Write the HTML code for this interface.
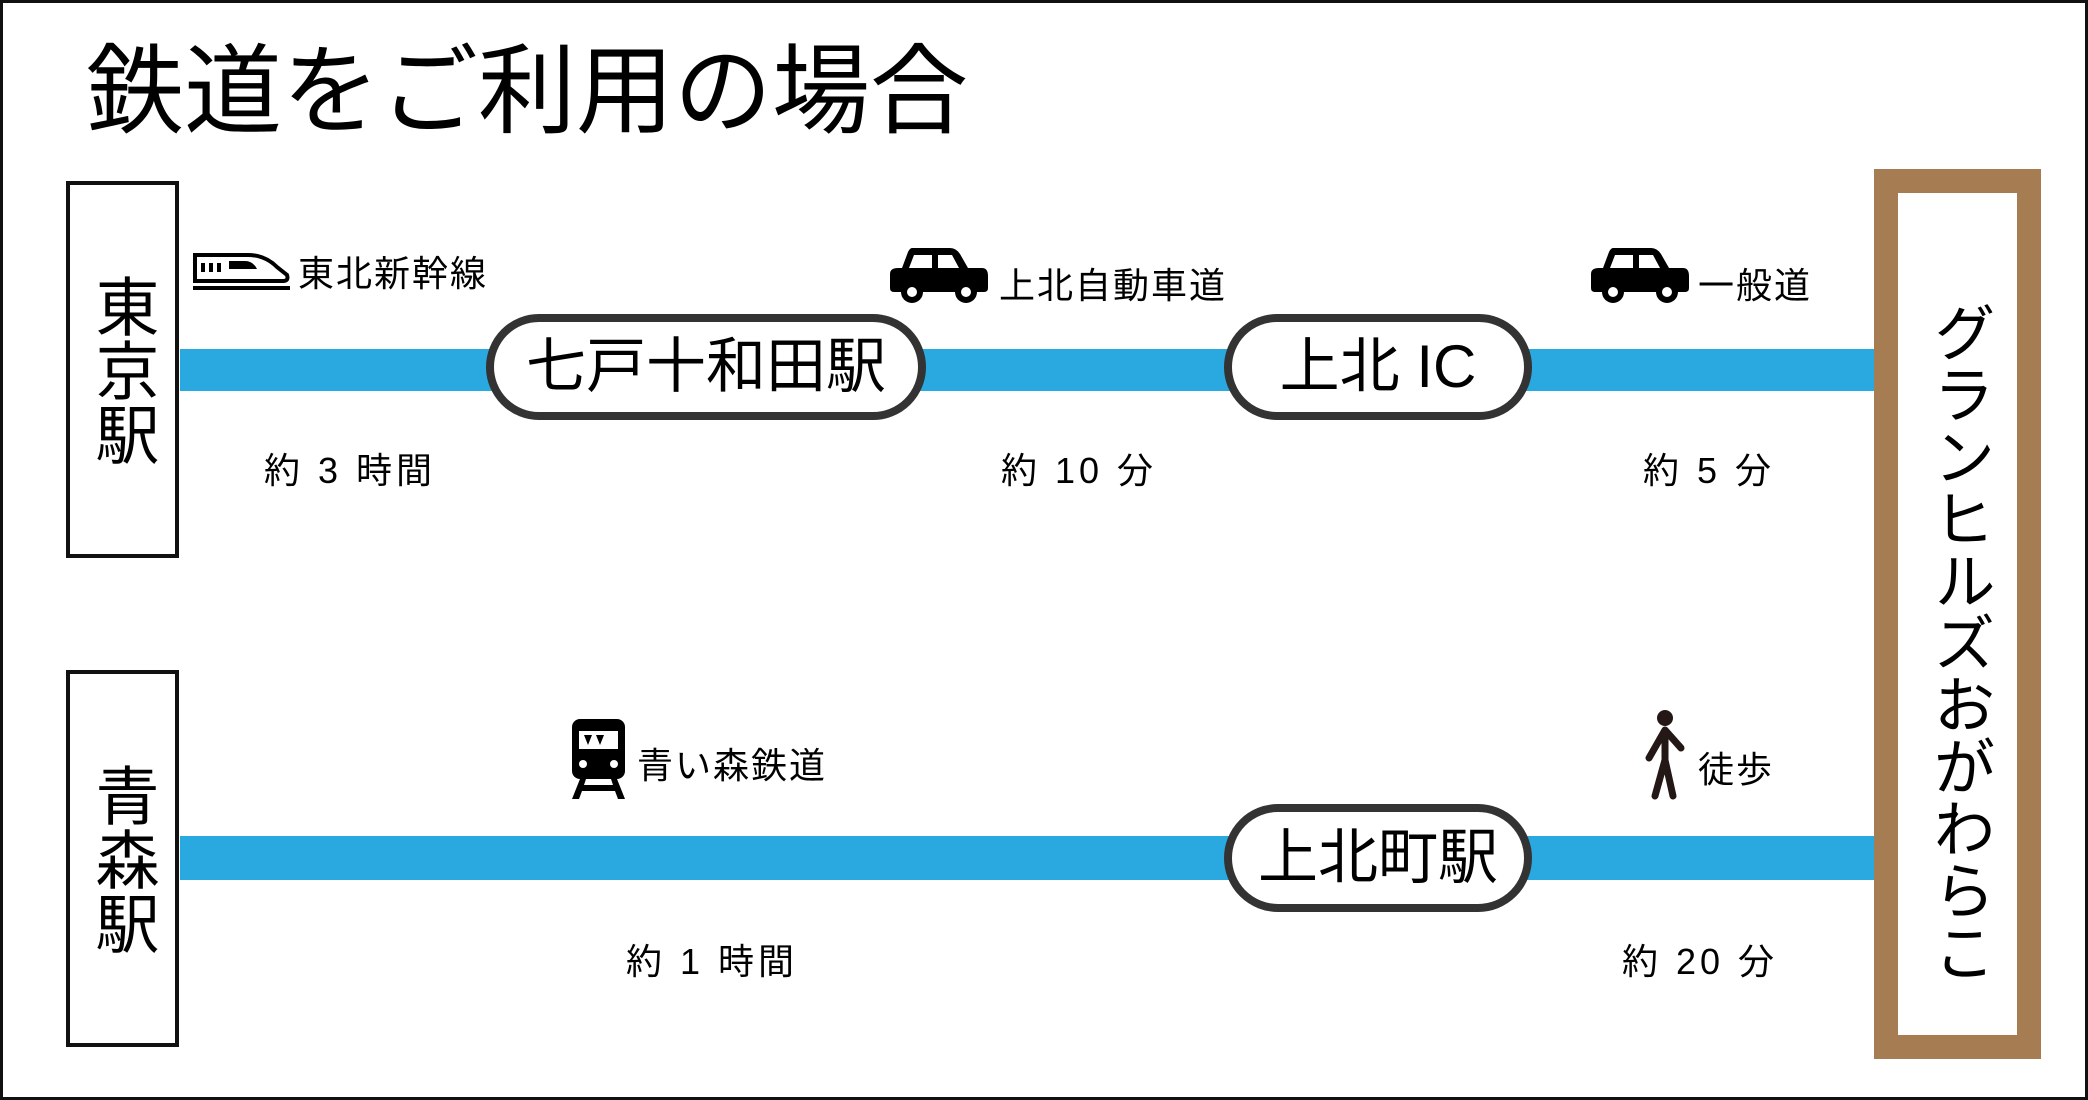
<!DOCTYPE html>
<html><head><meta charset="utf-8"><style>
*{margin:0;padding:0;box-sizing:border-box}
body{width:2088px;height:1100px;background:#fff;position:relative;overflow:hidden;font-family:"Liberation Sans","Noto Sans CJK JP",sans-serif;color:#000}
.a{position:absolute}
.frame{left:0;top:0;width:2088px;height:1100px;border:3px solid #111}
.title{left:86px;top:42px;font-size:98px;line-height:1;letter-spacing:0px;white-space:nowrap;font-weight:400}
.box{border:4px solid #111;background:#fff;width:113px;display:flex;align-items:center;justify-content:center}
.vt{writing-mode:vertical-rl;font-size:64px;line-height:1;letter-spacing:0}
.line{background:#29a9df}
.pill{border:8px solid #333;border-radius:54px;background:#fff;display:flex;align-items:center;justify-content:center;font-size:60px;white-space:nowrap;line-height:1}
.lbl{font-size:36px;line-height:1;white-space:nowrap;letter-spacing:2px}
.brown{left:1874px;top:169px;width:167px;height:890px;border:24px solid #a67c52;background:#fff;display:flex;justify-content:center;padding-top:108px}
</style></head><body>
<div class="a frame"></div>
<div class="a title">鉄道をご利用の場合</div>

<div class="a line" style="left:180px;top:349px;width:1700px;height:42px"></div>
<div class="a line" style="left:180px;top:836px;width:1700px;height:44px"></div>

<div class="a box" style="left:66px;top:181px;height:377px"><div class="vt">東京駅</div></div>
<div class="a box" style="left:66px;top:670px;height:377px"><div class="vt">青森駅</div></div>

<div class="a brown"><div class="vt" style="font-size:62px">グランヒルズおがわらこ</div></div>

<div class="a pill" style="left:486px;top:314px;width:440px;height:106px">七戸十和田駅</div>
<div class="a pill" style="left:1224px;top:314px;width:308px;height:106px">上北 IC</div>
<div class="a pill" style="left:1224px;top:804px;width:308px;height:108px">上北町駅</div>

<svg class="a" style="left:193px;top:253px" width="97" height="38" viewBox="0 0 97 38">
<path d="M2 2 H55 Q72 2 84 14 L94 22 Q96 28 90 28 H2 Z" fill="none" stroke="#000" stroke-width="4"/>
<rect x="8" y="10" width="4" height="9"/><rect x="16" y="10" width="4" height="9"/><rect x="24" y="10" width="4" height="9"/>
<path d="M36 8 H52 Q60 8 64 16 H36 Z"/>
<rect x="0" y="33" width="97" height="4"/>
</svg>
<div class="a lbl" style="left:298px;top:256px">東北新幹線</div>

<svg class="a" style="left:890px;top:246px" width="99" height="58" viewBox="0 0 99 58">
<path d="M22 2 H60 Q66 2 70 8 L78 22 H92 Q98 22 98 30 V42 Q98 46 94 46 H4 Q0 46 0 42 V28 Q0 22 8 22 H12 L18 6 Q20 2 22 2 Z"/>
<path d="M24 9 H42 V22 H19 Z M48 9 H62 L69 22 H48 Z" fill="#fff"/>
<circle cx="22" cy="46" r="11"/><circle cx="22" cy="46" r="5" fill="#fff"/>
<circle cx="76" cy="46" r="11"/><circle cx="76" cy="46" r="5" fill="#fff"/>
</svg>
<div class="a lbl" style="left:999px;top:268px">上北自動車道</div>
<svg class="a" style="left:1591px;top:246px" width="99" height="58" viewBox="0 0 99 58">
<path d="M22 2 H60 Q66 2 70 8 L78 22 H92 Q98 22 98 30 V42 Q98 46 94 46 H4 Q0 46 0 42 V28 Q0 22 8 22 H12 L18 6 Q20 2 22 2 Z"/>
<path d="M24 9 H42 V22 H19 Z M48 9 H62 L69 22 H48 Z" fill="#fff"/>
<circle cx="22" cy="46" r="11"/><circle cx="22" cy="46" r="5" fill="#fff"/>
<circle cx="76" cy="46" r="11"/><circle cx="76" cy="46" r="5" fill="#fff"/>
</svg>
<div class="a lbl" style="left:1698px;top:268px">一般道</div>

<div class="a lbl" style="left:264px;top:453px;letter-spacing:4px">約 3 時間</div>
<div class="a lbl" style="left:1001px;top:453px;letter-spacing:4px">約 10 分</div>
<div class="a lbl" style="left:1643px;top:453px;letter-spacing:4px">約 5 分</div>

<svg class="a" style="left:570px;top:719px" width="57" height="81" viewBox="0 0 57 81">
<rect x="2" y="0" width="53" height="60" rx="8"/>
<rect x="9" y="12" width="39" height="18" fill="#fff"/>
<path d="M14 16 L22 16 L18 26 Z M26 16 L34 16 L30 26 Z" fill="#000"/>
<circle cx="13" cy="45" r="4" fill="#fff"/><circle cx="44" cy="45" r="4" fill="#fff"/>
<path d="M10 60 L2 80 H9 L12 72 H45 L48 80 H55 L47 60 H41 L43 66 H14 L16 60 Z"/>
</svg>
<div class="a lbl" style="left:637px;top:748px">青い森鉄道</div>

<svg class="a" style="left:1637px;top:710px" width="57" height="91" viewBox="0 0 57 91">
<circle cx="28" cy="8" r="8" fill="#231815"/>
<path d="M28 20 L12 48 M28 20 L44 38 M28 20 V50 L18 86 M28 50 L36 86" stroke="#231815" stroke-width="7" stroke-linecap="round" fill="none"/>
</svg>
<div class="a lbl" style="left:1698px;top:752px">徒歩</div>

<div class="a lbl" style="left:626px;top:944px;letter-spacing:4px">約 1 時間</div>
<div class="a lbl" style="left:1622px;top:944px;letter-spacing:4px">約 20 分</div>
</body></html>
